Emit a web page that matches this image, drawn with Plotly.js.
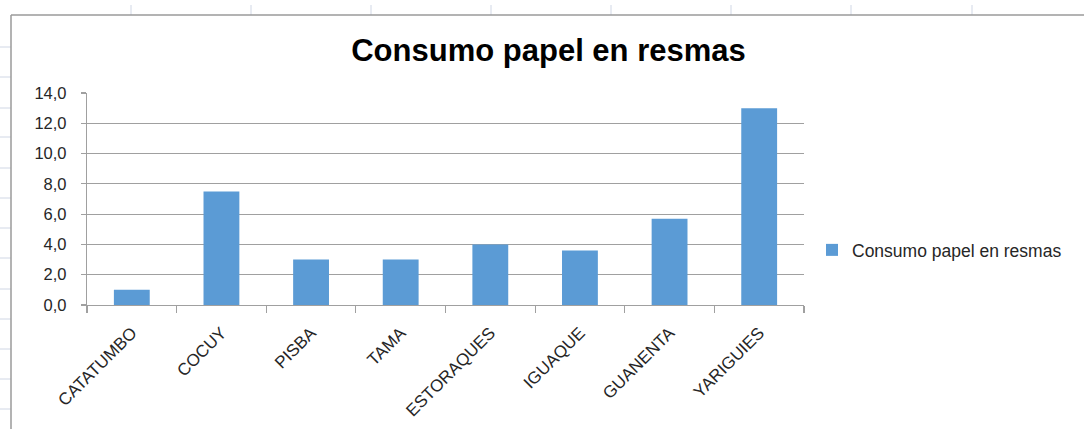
<!DOCTYPE html>
<html>
<head>
<meta charset="utf-8">
<script src="https://cdn.plot.ly/plotly-3.0.1.min.js"></script>
<style>
  html, body { margin: 0; padding: 0; background: #ffffff; }
  #chart { width: 1084px; height: 429px; }
</style>
</head>
<body>
<div id="chart"></div>
<script>
// ---- Data ----
const categories = ['CATATUMBO', 'COCUY', 'PISBA', 'TAMA', 'ESTORAQUES', 'IGUAQUE', 'GUANENTA', 'YARIGUIES'];
const values = [1.0, 7.5, 3.0, 3.0, 4.0, 3.6, 5.7, 13.0];
const seriesName = 'Consumo papel en resmas';
const chartTitle = 'Consumo papel en resmas';
const yTickValues = [0, 2, 4, 6, 8, 10, 12, 14];

// ---- Geometry ----
const W = 1084, H = 429;
const M = { l: 87, r: 280, t: 93, b: 124 };
const PW = W - M.l - M.r, PH = H - M.t - M.b;
const px2x = px => (px - M.l) / PW;
const px2y = py => (M.t + PH - py) / PH;

const sheetLine = '#d0d7e5';
const shapes = [];
// spreadsheet column marks above the chart
[131, 251, 371, 491, 611, 731, 851, 972].forEach(px => {
  shapes.push({ type: 'line', xref: 'paper', yref: 'paper', x0: px2x(px), x1: px2x(px), y0: px2y(5), y1: px2y(15),
    line: { color: sheetLine, width: 1 } });
});
// spreadsheet row marks left of the chart
[47, 77, 108, 137, 168, 198, 228, 258, 289, 319, 349, 379, 409].forEach(py => {
  shapes.push({ type: 'line', xref: 'paper', yref: 'paper', x0: px2x(0), x1: px2x(11), y0: px2y(py), y1: px2y(py),
    line: { color: sheetLine, width: 1 } });
});
// chart area border (top and left)
shapes.push({ type: 'line', xref: 'paper', yref: 'paper', x0: px2x(11), x1: px2x(1084), y0: px2y(15), y1: px2y(15),
  line: { color: '#9a9a9a', width: 1.5 } });
shapes.push({ type: 'line', xref: 'paper', yref: 'paper', x0: px2x(11), x1: px2x(11), y0: px2y(15), y1: px2y(429),
  line: { color: '#9a9a9a', width: 1.5 } });

const axisGray = '#a0a0a0';
const textColor = '#262626';
const fontFamily = '"Liberation Sans", Arial, sans-serif';

const trace = {
  type: 'bar',
  x: categories,
  y: values,
  name: seriesName,
  marker: { color: '#5b9bd5' },
  hovertemplate: '%{x}: %{y:.1f}<extra></extra>'
};

const layout = {
  width: W, height: H,
  margin: M,
  paper_bgcolor: '#ffffff',
  plot_bgcolor: '#ffffff',
  separators: ',.',
  font: { family: fontFamily, color: textColor },
  title: {
    text: chartTitle,
    font: { family: fontFamily, size: 31, color: '#000000', weight: 'bold' },
    xref: 'container', yref: 'container',
    x: 548.5 / W, xanchor: 'center',
    y: 1 - 50 / H, yanchor: 'middle'
  },
  bargap: 0.6,
  showlegend: true,
  legend: {
    xref: 'container', yref: 'container',
    x: 812 / W, xanchor: 'left',
    y: 1 - 250 / H, yanchor: 'middle',
    font: { family: fontFamily, size: 17.5, color: textColor },
    bgcolor: 'rgba(0,0,0,0)'
  },
  xaxis: {
    type: 'category',
    showgrid: false,
    showline: true, linecolor: axisGray, linewidth: 1.2,
    ticks: 'outside', tickson: 'boundaries', ticklen: 7, tickcolor: axisGray, tickwidth: 1.2,
    tickangle: -45,
    ticklabelstandoff: 10,
    tickfont: { family: fontFamily, size: 17, color: textColor },
    zeroline: false,
    fixedrange: true
  },
  yaxis: {
    range: [0, 14],
    tickmode: 'array',
    tickvals: yTickValues,
    tickformat: '.1f',
    showgrid: true, gridcolor: axisGray, gridwidth: 1.2,
    showline: true, linecolor: axisGray, linewidth: 1.2,
    ticks: 'outside', ticklen: 5, tickcolor: axisGray, tickwidth: 1.2,
    ticklabelstandoff: 11,
    tickfont: { family: fontFamily, size: 16.5, color: textColor },
    zeroline: false,
    fixedrange: true
  },
  shapes: shapes
};

Plotly.newPlot('chart', [trace], layout, { displayModeBar: false, staticPlot: true });
</script>
</body>
</html>
